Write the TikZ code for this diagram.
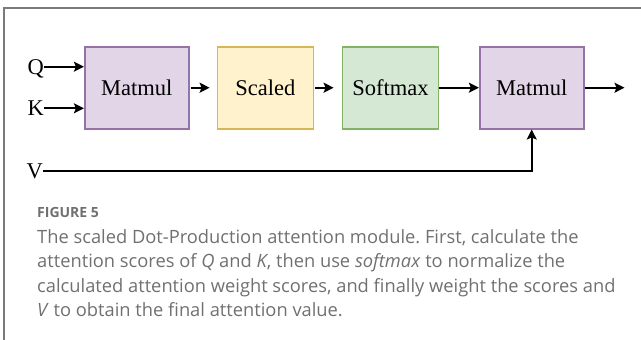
\documentclass[tikz,border=0pt]{standalone}
\usepackage{fontspec}
\setmainfont{Liberation Serif}
\newfontfamily\capfont{Open Sans}
\usetikzlibrary{arrows.meta}
\frenchspacing
\definecolor{purpfill}{HTML}{E1D5E7}
\definecolor{purpdraw}{HTML}{9673A6}
\definecolor{yelfill}{HTML}{FFF2CC}
\definecolor{yeldraw}{HTML}{D6B656}
\definecolor{grnfill}{HTML}{D5E8D4}
\definecolor{grndraw}{HTML}{82B366}
\definecolor{framecol}{HTML}{7A7A7A}
\definecolor{captext}{HTML}{707070}
\tikzset{
  blk/.style={draw, line width=1.6pt, minimum width=103pt, minimum height=82pt, inner sep=0pt,
    font=\fontsize{22.5}{27}\selectfont},
  lbl/.style={inner sep=0pt, text height=15pt, text depth=0pt, anchor=west,
    font=\fontsize{22.5}{27}\selectfont},
  arr/.style={line width=1.8pt, -{Stealth[length=10pt,width=10pt,inset=2pt]}},
  capline/.style={anchor=base west, inner sep=0pt, text=captext,
    font=\capfont\fontsize{18.3}{24}\selectfont},
}
\begin{document}
\begin{tikzpicture}[x=1pt,y=-1pt]
\useasboundingbox (0,0) rectangle (641,340);
\draw[framecol, line width=1.6pt] (4,341) -- (4,8) -- (642,8);
% boxes
\node[blk, fill=purpfill, draw=purpdraw, minimum width=104pt] (m1) at (136.7,87.7) {Matmul};
\node[blk, fill=yelfill, draw=yeldraw, minimum width=96pt] (sc) at (265.4,87.7) {Scaled};
\node[blk, fill=grnfill, draw=grndraw, minimum width=96pt] (sm) at (390.4,87.7) {Softmax};
\node[blk, fill=purpfill, draw=purpdraw, minimum width=104pt] (m2) at (531.7,87.7) {Matmul};
% inputs
\node[lbl] (Q) at (27.5,66.7) {Q};
\node[lbl] (K) at (27.5,108.3) {K};
\node[lbl] (V) at (26.5,171) {V};
\coordinate (out) at (624.5,87.7);
% connectors
\draw[arr] (Q.east) -- (Q.east -| m1.west);
\draw[arr] (K.east) -- (K.east -| m1.west);
\draw[arr] ([xshift=1pt]m1.east) -- ([xshift=-7pt]sc.west);
\draw[arr] ([xshift=1pt]sc.east) -- ([xshift=-8pt]sm.west);
\draw[arr] (sm.east) -- (m2.west);
\draw[arr] (m2.east) -- (out);
\draw[arr] (V.east) -| (m2.south);
% caption
\node[anchor=base west, inner sep=0pt, text=captext, font=\capfont\bfseries\fontsize{14}{16}\selectfont] (fig) at (37,217) {FIGURE 5};
\node[capline] (c1) at (37,243) {The scaled Dot-Production attention module. First, calculate the};
\node[capline] (c2) at (37,267.5) {attention scores of \textit{Q} and \textit{K}, then use \textit{softmax} to normalize the};
\node[capline] (c3) at (37,292) {calculated attention weight scores, and finally weight the scores and};
\node[capline] (c4) at (37,316.5) {\textit{V} to obtain the final attention value.};
\end{tikzpicture}
\end{document}
